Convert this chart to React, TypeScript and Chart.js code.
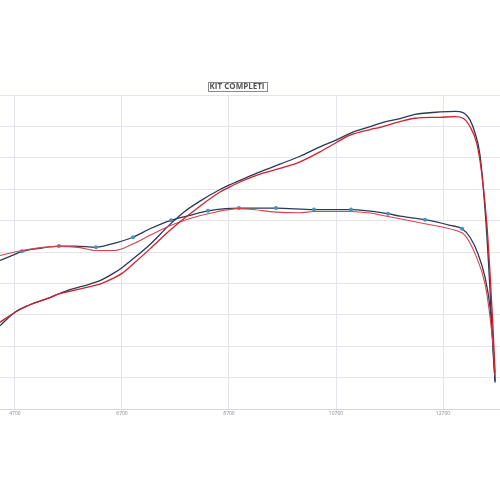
import React, { useEffect, useRef } from "react";
import { Chart, registerables } from "chart.js";

Chart.register(...registerables);

const TITLE = "KIT COMPLETI";
const X_TICKS = [4700, 6700, 8700, 10700, 12700];

// Power, blue (dark) run
const powerBlueRpm = [4420, 4700, 4980, 5354, 5522, 5728, 6102, 6289, 6569, 6700, 6943, 7223, 7597, 7878, 8158, 8532, 8700, 8906, 9280, 9653, 10027, 10401, 10700, 10962, 11336, 11523, 11897, 12177, 12645, 12925, 13075, 13205, 13299, 13392, 13504, 13579, 13635, 13673];
const powerBlue = [26.5, 30.8, 33.2, 35.5, 36.7, 38.0, 39.8, 40.9, 43.5, 45.0, 48.3, 52.4, 58.8, 63.0, 66.2, 69.9, 71.3, 72.8, 75.5, 78.0, 80.5, 83.5, 85.6, 87.8, 89.9, 91.0, 92.5, 93.8, 94.6, 94.8, 94.4, 92.0, 87.9, 80.8, 59.1, 37.7, 18.5, 8.9];

// Power, red run
const powerRedRpm = [4420, 4700, 4980, 5354, 5522, 5728, 6102, 6289, 6569, 6700, 6943, 7223, 7597, 7878, 8158, 8532, 8700, 8906, 9280, 9653, 10027, 10401, 10700, 10962, 11336, 11523, 11897, 12177, 12645, 12925, 13075, 13205, 13331, 13424, 13518, 13579, 13630, 13673];
const powerRed = [27.6, 30.8, 33.2, 35.5, 36.7, 37.5, 39.0, 39.8, 41.9, 43.2, 46.7, 51.0, 56.9, 60.9, 64.6, 69.1, 70.6, 72.3, 74.8, 76.6, 78.7, 81.9, 84.8, 87.2, 89.0, 89.7, 91.5, 92.6, 92.9, 93.1, 92.6, 89.9, 84.6, 75.0, 59.1, 43.1, 27.2, 11.5];

// Torque, blue (dark) run
const torqueBlueRpm = [4420, 4607, 4831, 5167, 5522, 5822, 6214, 6476, 6906, 7223, 7616, 7971, 8308, 8625, 8887, 9579, 10289, 10981, 11672, 11897, 12364, 12831, 13056, 13205, 13355, 13486, 13579, 13635, 13673];
const torqueBlue = [47.3, 48.6, 50.2, 51.2, 51.9, 51.9, 51.5, 52.4, 54.7, 57.4, 60.1, 61.7, 63.1, 63.8, 64.0, 64.0, 63.5, 63.5, 62.2, 61.4, 60.3, 58.5, 57.4, 54.7, 49.4, 41.9, 32.4, 20.7, 8.4];
const torqueMarkerRpm = [4831, 5522, 6214, 6906, 7616, 8308, 8887, 9579, 10289, 10981, 11672, 12364, 13056];

// Torque, red run
const torqueRedRpm = [4420, 4831, 5522, 5915, 6214, 6569, 6906, 7223, 7616, 7971, 8308, 8887, 9093, 9579, 10027, 10289, 10981, 11336, 11672, 11897, 12364, 12925, 13112, 13299, 13486, 13579, 13654, 13673];
const torqueRed = [48.9, 50.5, 51.8, 51.4, 50.5, 50.5, 52.6, 55.3, 58.5, 60.7, 62.2, 63.8, 63.6, 62.7, 62.5, 62.9, 62.9, 62.4, 61.3, 60.6, 59.0, 56.9, 55.3, 49.4, 39.8, 29.2, 16.4, 10.5];

const X_MIN = 4420;
const X_MAX = 13765;

const NAVY = "#2a3a57";
const RED = "#d31f2c";
const RED_LIGHT = "#d8434c";
const MARKER = "#4a8fc0";
const GRID = "#e4e4ec";

function pts(xs: number[], ys: number[]) {
  return xs.map((x, i) => ({ x, y: ys[i] }));
}

const titlePlugin = {
  id: "boxedTitle",
  afterDraw(chart: any) {
    const ctx = chart.ctx;
    const area = chart.chartArea;
    const cx = (area.left + area.right) / 2 - 13;
    const cy = area.top - 8;
    ctx.save();
    ctx.font = "bold 8px 'Open Sans', 'DejaVu Sans', sans-serif";
    ctx.fillStyle = "#555555";
    ctx.textAlign = "center";
    ctx.textBaseline = "middle";
    ctx.fillText(TITLE, cx, cy);
    const w = ctx.measureText(TITLE).width;
    ctx.strokeStyle = "#8a8a8a";
    ctx.lineWidth = 1;
    ctx.strokeRect(Math.round(cx - w / 2 - 2) + 0.5, Math.round(cy - 5) + 0.5, Math.round(w + 4), 9);
    ctx.restore();
  },
};

export default function App() {
  const ref = useRef<HTMLCanvasElement | null>(null);
  useEffect(() => {
    if (!ref.current) return;
    const markerSet = new Set(torqueMarkerRpm);
    const chart = new Chart(ref.current, {
      type: "line",
      data: {
        datasets: [
          {
            label: "Potenza rosso",
            data: pts(powerRedRpm, powerRed),
            borderColor: RED,
            borderWidth: 1.3,
            pointRadius: 0,
            cubicInterpolationMode: "monotone",
          },
          {
            label: "Coppia rosso",
            data: pts(torqueRedRpm, torqueRed),
            borderColor: RED_LIGHT,
            borderWidth: 1.1,
            pointRadius: 0,
            cubicInterpolationMode: "monotone",
          },
          {
            label: "Potenza",
            data: pts(powerBlueRpm, powerBlue),
            borderColor: NAVY,
            borderWidth: 1.3,
            pointRadius: 0,
            cubicInterpolationMode: "monotone",
          },
          {
            label: "Coppia",
            data: pts(torqueBlueRpm, torqueBlue),
            borderColor: NAVY,
            borderWidth: 1.3,
            pointRadius: torqueBlueRpm.map((r) => (markerSet.has(r) ? 2 : 0)),
            pointBackgroundColor: MARKER,
            pointBorderColor: MARKER,
            pointBorderWidth: 0,
            cubicInterpolationMode: "monotone",
          },
        ],
      },
      options: {
        responsive: false,
        animation: false,
        devicePixelRatio: 1,
        layout: { padding: { top: 95, left: 0, right: 0, bottom: 81 } },
        plugins: { legend: { display: false }, title: { display: false }, tooltip: { enabled: false } },
        scales: {
          x: {
            type: "linear",
            min: X_MIN,
            max: X_MAX,
            afterBuildTicks: (axis: any) => {
              axis.ticks = X_TICKS.map((v) => ({ value: v }));
            },
            ticks: {
              font: { size: 5, family: "'Open Sans', sans-serif" },
              color: "#888888",
              padding: 2,
              maxRotation: 0,
              autoSkip: false,
              callback: (v: any) => String(v),
            },
            grid: { color: GRID, drawTicks: false },
            border: { display: true, color: "#d6d6de" },
          },
          y: {
            min: 0,
            max: 100,
            ticks: { display: false, stepSize: 10 },
            grid: { color: GRID, drawTicks: false },
            border: { display: false },
          },
        },
      },
      plugins: [titlePlugin],
    } as any);
    return () => chart.destroy();
  }, []);
  return (
    <div style={{ position: "absolute", left: 0, top: 0, width: 500, height: 500, background: "#fff" }}>
      <canvas ref={ref} width={500} height={500} style={{ display: "block" }} />
    </div>
  );
}
